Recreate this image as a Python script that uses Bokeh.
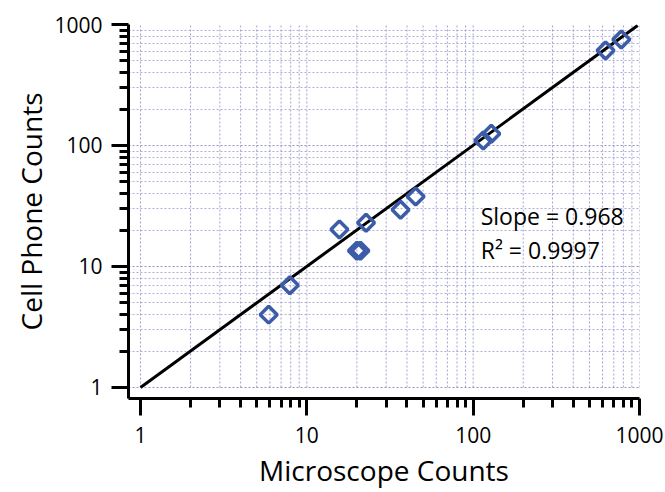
from bokeh.plotting import figure
from bokeh.models import FixedTicker, Range1d, Label
from bokeh.embed import file_html
from bokeh.resources import INLINE
import numpy as np

# ---- data ----
microscope = [5.9, 7.9, 15.7, 20.0, 21.0, 22.7, 36.6, 45.1, 115.0, 128.5, 625.0, 777.0]
cellphone = [4.0, 7.0, 20.2, 13.5, 13.5, 23.0, 29.4, 37.9, 110.0, 125.0, 610.0, 752.0]
fit_x = [1.0, 975.0]
fit_y = [1.0, 980.0]
major_ticks = [1, 10, 100, 1000]
minor_ticks = [m * d for d in (1, 10, 100) for m in range(2, 10)]
tick_labels = {1: "1", 10: "10", 100: "100", 1000: "1000"}
slope_text = "Slope = 0.968"
r2_text = "R² = 0.9997"
x_title = "Microscope Counts"
y_title = "Cell Phone Counts"

FONT = "Open Sans"

p = figure(width=665, height=492, x_axis_type="log", y_axis_type="log",
           x_range=Range1d(0.847, 1000), y_range=Range1d(0.811, 1000),
           output_backend="svg", toolbar_location=None,
           min_border_left=128, min_border_right=26, min_border_top=24, min_border_bottom=94)
p.outline_line_color = None
p.background_fill_color = "white"

# grid: horizontal via ygrid, vertical drawn only over 1..1000
p.xgrid.grid_line_color = None
p.ygrid.ticker = FixedTicker(ticks=major_ticks, minor_ticks=minor_ticks)
p.ygrid.grid_line_color = "#7a7ac0"
p.ygrid.grid_line_dash = "2 2"
p.ygrid.grid_line_width = 1
p.ygrid.grid_line_alpha = 0.8
p.ygrid.minor_grid_line_color = "#9a9ad0"
p.ygrid.minor_grid_line_dash = "2 2"
p.ygrid.minor_grid_line_alpha = 0.8

vx = major_ticks + minor_ticks
p.segment(x0=vx, y0=[1] * len(vx), x1=vx, y1=[1000] * len(vx),
          line_color="#8a8ac8", line_dash="2 2", line_width=1, line_alpha=0.8)

for ax in (p.xaxis[0], p.yaxis[0]):
    ax.ticker = FixedTicker(ticks=major_ticks, minor_ticks=minor_ticks)
    ax.major_label_overrides = tick_labels
    ax.axis_line_width = 3
    ax.major_tick_line_width = 3
    ax.minor_tick_line_width = 3
    ax.major_tick_in = 0
    ax.major_tick_out = 17
    ax.minor_tick_in = 0
    ax.minor_tick_out = 9
    ax.major_label_text_font = FONT
    ax.major_label_text_font_size = "21px"
    ax.major_label_text_color = "black"
    ax.axis_label_text_font = FONT
    ax.axis_label_text_font_size = "28px"
    ax.axis_label_text_font_style = "normal"
    ax.axis_label_text_color = "black"

p.xaxis.major_label_standoff = 11
p.yaxis.major_label_standoff = 9
p.xaxis.axis_label_standoff = 5
p.yaxis.axis_label_standoff = 1
p.xaxis.axis_label = x_title
p.yaxis.axis_label = y_title

# fit line
p.line(fit_x, fit_y, line_color="black", line_width=3)

# points
p.scatter(microscope, cellphone, marker="square", size=12, angle=np.pi / 4,
          fill_color=None, line_color="#3d5ca8", line_width=3.5)

p.add_layout(Label(x=111, y=25.9, text=slope_text, text_font=FONT, text_font_size="23px",
                   text_baseline="middle", text_color="black"))
p.add_layout(Label(x=111, y=13.8, text=r2_text, text_font=FONT, text_font_size="23px",
                   text_baseline="middle", text_color="black"))

open("out.html", "w").write(file_html(p, INLINE))
